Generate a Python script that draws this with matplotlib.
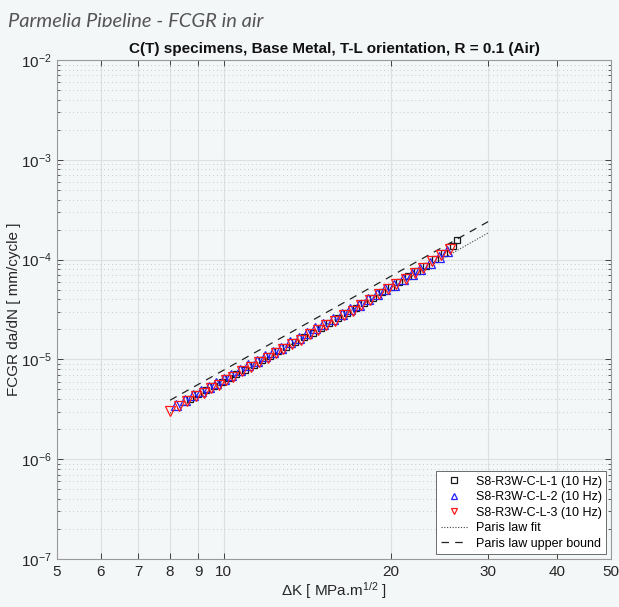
import math
import matplotlib
matplotlib.use("Agg")
import matplotlib.pyplot as plt
from matplotlib.ticker import FixedLocator, LogLocator, NullFormatter, FuncFormatter
from matplotlib.patches import Rectangle

# ---------------- data ----------------
dk_s1 = [8.69, 9.00, 9.30, 9.60, 9.91, 10.21, 10.51, 10.92, 11.32, 11.73, 12.13, 12.54,
         12.94, 13.45, 13.95, 14.46, 14.96, 15.47, 16.07, 16.68, 17.29, 17.89, 18.60,
         19.31, 20.02, 20.73, 21.53, 22.34, 23.15, 24.06, 24.97, 25.88, 26.40]
da_s1 = [3.98e-6, 4.45e-6, 4.92e-6, 5.38e-6, 5.90e-6, 6.47e-6, 7.09e-6, 7.87e-6, 8.80e-6,
         9.78e-6, 1.087e-5, 1.20e-5, 1.325e-5, 1.49e-5, 1.68e-5, 1.86e-5, 2.08e-5, 2.30e-5,
         2.59e-5, 2.91e-5, 3.25e-5, 3.64e-5, 4.16e-5, 4.71e-5, 5.31e-5, 5.97e-5, 6.79e-5,
         7.67e-5, 8.65e-5, 1.004e-4, 1.16e-4, 1.38e-4, 1.56e-4]

dk_s2 = [8.21, 8.51, 8.80, 9.10, 9.40, 9.69, 9.99, 10.29, 10.68, 11.08, 11.47, 11.87, 12.26,
         12.66, 13.15, 13.65, 14.14, 14.64, 15.13, 15.73, 16.32, 16.91, 17.51, 18.20, 18.89,
         19.58, 20.27, 21.07, 21.86, 22.65, 23.54, 24.43, 25.32]
da_s2 = [3.48e-6, 3.91e-6, 4.35e-6, 4.83e-6, 5.31e-6, 5.84e-6, 6.38e-6, 7.00e-6, 7.82e-6,
         8.69e-6, 9.66e-6, 1.072e-5, 1.188e-5, 1.314e-5, 1.478e-5, 1.652e-5, 1.845e-5,
         2.048e-5, 2.27e-5, 2.55e-5, 2.85e-5, 3.17e-5, 3.54e-5, 4.01e-5, 4.49e-5, 5.02e-5,
         5.60e-5, 6.33e-5, 7.10e-5, 8.02e-5, 9.22e-5, 1.06e-4, 1.22e-4]

dk_s3 = [8.0, 8.3, 8.6, 8.9, 9.2, 9.5, 9.8, 10.1, 10.4, 10.8, 11.2, 11.6, 12.0, 12.4, 12.8,
         13.3, 13.8, 14.3, 14.8, 15.3, 15.9, 16.5, 17.1, 17.7, 18.4, 19.1, 19.8, 20.5,
         21.3, 22.1, 22.9, 23.8, 24.7, 25.6]
da_s3 = [3.02e-6, 3.45e-6, 3.80e-6, 4.25e-6, 4.62e-6, 5.15e-6, 5.60e-6, 6.20e-6, 6.70e-6,
         7.60e-6, 8.35e-6, 9.40e-6, 1.03e-5, 1.15e-5, 1.26e-5, 1.43e-5, 1.58e-5, 1.78e-5,
         1.96e-5, 2.20e-5, 2.45e-5, 2.78e-5, 3.08e-5, 3.48e-5, 3.95e-5, 4.50e-5, 5.05e-5,
         5.72e-5, 6.45e-5, 7.35e-5, 8.25e-5, 9.60e-5, 1.10e-4, 1.28e-4]

paris_dk = [8.0, 30.0]
paris_fit = [2.9e-6, 1.85e-4]
paris_upper = [3.9e-6, 2.4e-4]

series_labels = ["S8-R3W-C-L-1 (10 Hz)", "S8-R3W-C-L-2 (10 Hz)", "S8-R3W-C-L-3 (10 Hz)"]
x_ticks = [5, 6, 7, 8, 9, 10, 20, 30, 40, 50]
y_ticks = [1e-7, 1e-6, 1e-5, 1e-4, 1e-3, 1e-2]

# ---------------- style ----------------
BG = "#f4f7f8"
plt.rcParams['font.family'] = ['Liberation Sans', 'DejaVu Sans']
plt.rcParams['mathtext.fontset'] = 'custom'
plt.rcParams['mathtext.rm'] = 'Liberation Sans'
plt.rcParams['mathtext.it'] = 'Liberation Sans:italic'

fig = plt.figure(figsize=(6.19, 6.07), dpi=100, facecolor=BG)
ax = fig.add_axes([57/619, 48/607, (611-57)/619, (559-60)/607])
ax.set_facecolor(BG)
ax.set_xscale('log')
ax.set_yscale('log')
ax.set_xlim(5, 50)
ax.set_ylim(1e-7, 1e-2)

ax.xaxis.set_major_locator(FixedLocator(x_ticks))
ax.xaxis.set_minor_locator(FixedLocator([]))
ax.xaxis.set_major_formatter(FuncFormatter(lambda v, p: f"{int(round(v))}"))
ax.yaxis.set_major_locator(FixedLocator(y_ticks))
ax.yaxis.set_minor_locator(LogLocator(base=10, subs=range(2, 10), numticks=20))
ax.yaxis.set_minor_formatter(NullFormatter())
ax.yaxis.set_major_formatter(FuncFormatter(lambda v, p: r"$10^{%d}$" % round(math.log10(v))))

ax.grid(True, which='major', color='#dde0e1', linewidth=0.8, linestyle='-')
ax.grid(True, which='minor', axis='y', color='#c8cbcc', linewidth=0.7, linestyle=(0, (1, 3)))
ax.set_axisbelow(True)

ax.tick_params(which='both', direction='in', top=True, right=True, labelsize=11,
               colors='#262626', pad=4)
ax.tick_params(which='major', length=4, width=0.6)
ax.tick_params(which='minor', length=2.5, width=0.5)
for s in ax.spines.values():
    s.set_color('#9a9a9a')
    s.set_linewidth(0.8)

# fits
ax.plot(paris_dk, paris_fit, linestyle=(0, (1, 1.5)), color='#444444', linewidth=0.8,
        label='Paris law fit')
ax.plot(paris_dk, paris_upper, linestyle=(0, (6, 5)), color='#222222', linewidth=0.9,
        label='Paris law upper bound')

# data
ax.plot(dk_s1, da_s1, linestyle='none', marker='s', markersize=5.0, markerfacecolor='none',
        markeredgecolor='#1a1a1a', markeredgewidth=0.9, label=series_labels[0])
ax.plot(dk_s2, da_s2, linestyle='none', marker='^', markersize=6.5, markerfacecolor='none',
        markeredgecolor='#2020ff', markeredgewidth=0.9, label=series_labels[1])
ax.plot(dk_s3, da_s3, linestyle='none', marker='v', markersize=6.5, markerfacecolor='none',
        markeredgecolor='#ff1a1a', markeredgewidth=0.9, label=series_labels[2])

handles, labels = ax.get_legend_handles_labels()
order = [2, 3, 4, 0, 1]
leg = ax.legend([handles[i] for i in order], [labels[i] for i in order], loc='lower right',
                fontsize=9, frameon=True, fancybox=False, edgecolor='#555555',
                facecolor='white', framealpha=1.0, borderpad=0.35, labelspacing=0.28,
                handlelength=2.2, handletextpad=0.6, borderaxespad=0.4, markerscale=0.75)
leg.get_frame().set_linewidth(0.6)

ax.set_title("C(T) specimens, Base Metal, T-L orientation, R = 0.1 (Air)", fontsize=11,
             fontweight='bold', color='#111111', pad=5)
ax.set_xlabel(r"$\Delta$K [ MPa.m$^{1/2}$ ]", fontsize=11, color='#262626', labelpad=1)
ax.set_ylabel("FCGR da/dN [ mm/cycle ]", fontsize=11, color='#262626', labelpad=0)

# page header (clipped at its bottom like the reference)
fig.text(8/619, 1 - 27/607, "Parmelia Pipeline - FCGR in air", fontsize=14.5,
         style='italic', color='#555555', family=['Lato', 'DejaVu Sans'],
         ha='left', va='baseline')
fig.patches.append(Rectangle((0, 1 - 34/607), 1, 7/607, transform=fig.transFigure,
                             facecolor=BG, edgecolor='none', zorder=5))

fig.savefig("out.png", dpi=100, facecolor=BG)
